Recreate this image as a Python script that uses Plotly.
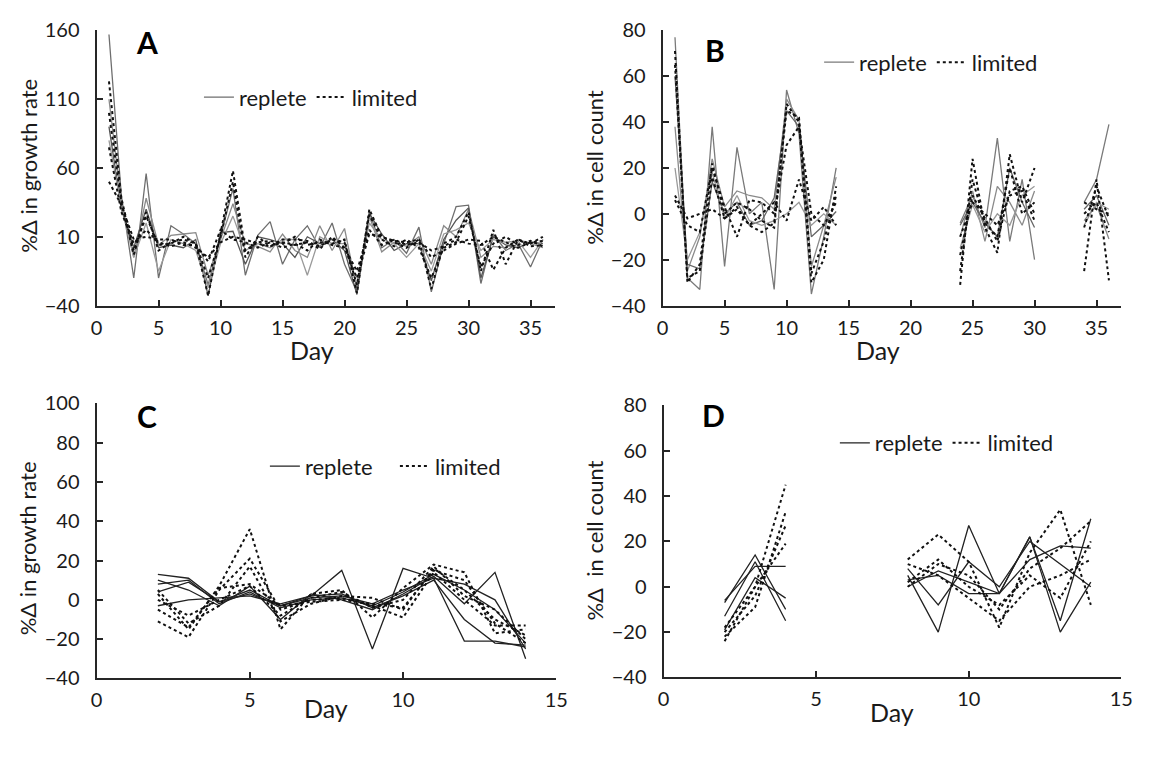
import plotly.graph_objects as go

# ---------------- DATA ----------------
days_A = list(range(1, 37))
A_replete = [
    [157, 40, -20, 56, -20, 18, 12, 5, -25, 10, 45, -18, 11, 21, -10, 8, 18, 2, 20, -10, -30, 28, 2, 8, -2, 17, -30, 5, 32, 33, -24, 12, 0, 5, -12, 8],
    [110, 35, -5, 38, 4, 11, 12, 13, -18, 8, 34, 5, 3, -1, 12, 0, -5, 18, 0, 16, -28, 25, -1, 6, 3, 10, -10, 18, 10, 30, -5, 3, 2, 8, 5, 2],
    [90, 30, 2, 30, 2, 4, 2, 8, -33, 13, 14, -10, 10, 8, 5, -5, 10, 5, 8, 0, -32, 27, 12, 0, 5, 5, -22, 8, 22, 31, -20, 10, 4, 2, 6, 5],
    [80, 32, -5, 20, -15, 8, 5, 0, -27, 5, 25, 0, 5, 2, 8, 8, -18, 10, 5, 5, -25, 20, 8, 5, -5, 5, -15, 12, 15, 20, 0, 8, 6, 7, -5, 8],
]
A_limited = [
    [123, 38, 0, 25, 4, 5, 10, 5, -33, 13, 58, 0, 6, 7, 5, 10, 4, 6, 5, 8, -31, 30, 10, 6, 2, 8, -28, 5, 10, 28, -15, 15, -10, 8, 5, 10],
    [100, 35, -3, 28, 0, 6, 8, 5, -20, 10, 50, -5, 10, 3, 6, 4, 6, 3, 8, 6, -25, 26, 8, 3, 8, 2, -20, 2, 6, 25, -12, 5, 10, 4, 7, 3],
    [75, 28, 5, 15, 6, 3, 6, 2, -5, 6, 10, 8, 5, 3, 8, 8, 7, 1, 10, 2, -20, 12, 10, 7, 6, 8, -5, 0, 5, 8, 7, -14, 2, 8, 3, 4],
    [50, 33, 8, 10, 8, 8, 4, 4, -8, 15, 8, 6, 2, 6, 2, 5, 0, 8, 4, 2, -15, 15, 4, 8, 4, 6, 0, 3, 8, 5, 4, 10, 6, 2, 6, 7],
]

days_B = list(range(1, 37))
_ = None
B_replete = [
    [77, -28, -33, 38, -23, 29, 0, 5, -33, 54, 35, -35, -10, 20, _, _, _, _, _, _, _, _, _, -4, 8, -6, 33, -12, 15, -20, _, _, _, 5, 15, 39],
    [38, -25, -10, 24, 3, 10, 8, 7, 2, 50, 41, -23, -5, 16, _, _, _, _, _, _, _, _, _, -10, 10, -12, 12, 5, -5, 10, _, _, _, -3, 4, -11],
    [60, -22, -24, 14, 0, 5, -5, -3, 7, 45, 38, -10, -5, 1, _, _, _, _, _, _, _, _, _, -5, 5, -4, -10, 20, 5, -6, _, _, _, 2, 8, -5],
    [20, -20, -8, 18, -2, 8, -3, -5, -3, 0, 5, -5, 0, -5, _, _, _, _, _, _, _, _, _, -15, 4, -8, 0, -5, 8, 12, _, _, _, -5, 5, 2],
]
B_limited = [
    [71, -30, -22, 22, 0, 5, 2, -3, -6, 48, 40, -30, -20, 12, _, _, _, _, _, _, _, _, _, -31, 24, -6, -17, 26, 5, 20, _, _, _, -25, 15, -29],
    [65, -28, -25, 16, -2, 2, -5, -8, -4, 45, 42, -26, -12, 8, _, _, _, _, _, _, _, _, _, -25, 15, -4, -10, 20, 0, 5, _, _, _, -6, 12, -2],
    [6, -5, -8, 20, 3, -10, 6, 5, 0, 30, 38, 0, -5, 5, _, _, _, _, _, _, _, _, _, -18, 8, -2, -12, 10, 12, 0, _, _, _, 0, 5, -8],
    [8, -2, 0, 2, -2, 3, -5, 0, 5, -3, 15, -3, 3, -5, _, _, _, _, _, _, _, _, _, -10, 5, 0, -5, 8, 10, -3, _, _, _, 5, 2, 0],
]

days_C = list(range(2, 15))
C_replete = [
    [13, 11, -1, 3, -3, 2, 15, -25, 16, 11, -21, -21, -24],
    [10, 5, -3, 7, -10, 3, 0, -5, 3, 12, -2, 14, -30],
    [4, 9, -1, 5, -3, 1, 2, -2, 5, 11, 8, 0, -25],
    [-3, 0, 1, 2, -2, 2, 3, -4, 2, 10, -10, -22, -23],
    [8, 10, -2, 4, -4, 0, 1, -3, 4, 13, 5, -5, -22],
]
C_limited = [
    [3, -15, 7, 36, -15, 3, 5, -9, 6, 18, 14, -17, -15],
    [-11, -19, 5, 21, -5, 0, 1, -3, -9, 14, 0, -13, -13],
    [5, -12, -3, 17, -11, -2, 2, 1, -5, 16, 5, -10, -18],
    [0, -8, 0, 7, -8, 1, 4, -4, 0, 17, 2, -5, -20],
    [-5, -14, 6, 8, -3, -1, 0, -2, -4, 15, 10, -12, -22],
]

days_D = list(range(2, 15))
D_replete = [
    [-7, 14, -10, _, _, _, 5, -20, 27, -3, 22, -20, 2],
    [-13, 11, -15, _, _, _, 3, 5, -3, -3, 22, -15, 30],
    [-19, 4, -5, _, _, _, 0, 7, 2, -3, 12, 18, 17],
    [-6, 9, 9, _, _, _, 8, -8, 11, 0, 20, 10, 0],
]
D_limited = [
    [-24, 0, 45, _, _, _, 12, 23, 11, -18, 15, 34, -8],
    [-22, -9, 33, _, _, _, 0, 10, 5, -10, 8, 17, 29],
    [-20, -4, 27, _, _, _, 10, 5, -5, -15, 0, 5, 12],
    [-18, 0, 19, _, _, _, 2, 12, 0, -8, 5, -5, 20],
]

panel_letters = ["A", "B", "C", "D"]
y_titles = ["%Δ in growth rate", "%Δ in cell count", "%Δ in growth rate", "%Δ  in cell count"]
x_title = "Day"
legend_names = ["replete", "limited"]

# ---------------- STYLE ----------------
W, H = 1154, 765
FONT = "Lato, 'Open Sans', sans-serif"
TXT = "#1a1a1a"

def px_x(p):
    return p / W

def px_y(p):
    return 1 - p / H

panels = [
    dict(name="A", days=days_A, rep=A_replete, lim=A_limited, xd=(92, 558), yd=(18, 302),
         xr=[0, 37], xt=list(range(0, 36, 5)), yr=[-40, 160], dt=50,
         rep_colors=["#6e6e6e", "#8a8a8a", "#555555", "#9a9a9a"], leg=(196, 87), ew=None,
         letter=(143, 30), ytitle=(22, 158), day=(311, 348)),
    dict(name="B", days=days_B, rep=B_replete, lim=B_limited, xd=(667, 1133), yd=(18, 302),
         xr=[0, 37], xt=list(range(0, 36, 5)), yr=[-40, 80], dt=20,
         rep_colors=["#7a7a7a", "#8a8a8a", "#666666", "#999999"], leg=(826, 51), ew=None,
         letter=(720, 38), ytitle=(598, 160), day=(886, 348)),
    dict(name="C", days=days_C, rep=C_replete, lim=C_limited, xd=(92, 559), yd=(403, 687),
         xr=[0, 15], xt=[0, 5, 10, 15], yr=[-40, 100], dt=20,
         rep_colors=["#222222"] * 5, leg=(263, 468), ew=85,
         letter=(143, 416), ytitle=(22, 553), day=(325, 718)),
    dict(name="D", days=days_D, rep=D_replete, lim=D_limited, xd=(668, 1133), yd=(405, 686),
         xr=[0, 15], xt=[0, 5, 10, 15], yr=[-40, 80], dt=20,
         rep_colors=["#222222"] * 4, leg=(842, 444), ew=None,
         letter=(719, 415), ytitle=(598, 545), day=(900, 722)),
]

fig = go.Figure()
layout = dict(
    width=W, height=H, margin=dict(l=0, r=0, t=0, b=0),
    paper_bgcolor="white", plot_bgcolor="white",
    font=dict(family=FONT, size=20, color=TXT),
    showlegend=True, annotations=[],
)

for i, p in enumerate(panels):
    n = "" if i == 0 else str(i + 1)
    xa, ya = "x" + n, "y" + n
    legname = "legend" if i == 0 else "legend" + str(i + 1)
    for k, vals in enumerate(p["rep"]):
        fig.add_trace(go.Scatter(
            x=p["days"], y=vals, mode="lines", xaxis=xa, yaxis=ya,
            line=dict(color=p["rep_colors"][k % len(p["rep_colors"])], width=1.3),
            name=legend_names[0], legend=legname, showlegend=(k == 0),
            connectgaps=False, hoverinfo="skip"))
    for k, vals in enumerate(p["lim"]):
        fig.add_trace(go.Scatter(
            x=p["days"], y=vals, mode="lines", xaxis=xa, yaxis=ya,
            line=dict(color="#111111", width=2, dash="dot"),
            name=legend_names[1], legend=legname, showlegend=(k == 0),
            connectgaps=False, hoverinfo="skip"))

    axis_common = dict(showline=True, linewidth=2, linecolor="#262626", ticks="inside",
                       ticklen=6, tickwidth=1.5, tickcolor="#262626", showgrid=False,
                       zeroline=False, tickfont=dict(family=FONT, size=20, color=TXT))
    layout["xaxis" + n] = dict(axis_common, domain=[px_x(p["xd"][0]), px_x(p["xd"][1])],
                               range=p["xr"], tickvals=p["xt"], anchor=ya,
                               ticklabelstandoff=3)
    layout["yaxis" + n] = dict(axis_common, domain=[px_y(p["yd"][1]), px_y(p["yd"][0])],
                               range=p["yr"], dtick=p["dt"], tick0=p["yr"][0], anchor=xa,
                               ticklabelstandoff=11)
    leg = dict(x=px_x(p["leg"][0]), y=px_y(p["leg"][1]), xanchor="left",
               yanchor="middle", orientation="h", bgcolor="rgba(0,0,0,0)",
               font=dict(family=FONT, size=22, color=TXT),
               itemwidth=30, tracegroupgap=0)
    if p["ew"]:
        leg["entrywidth"] = p["ew"]
        leg["entrywidthmode"] = "pixels"
    layout[legname] = leg

    layout["annotations"].append(dict(text="<b>%s</b>" % panel_letters[i],
                                      x=px_x(p["letter"][0]), y=px_y(p["letter"][1]),
                                      xref="paper", yref="paper", showarrow=False,
                                      xanchor="center", yanchor="middle",
                                      font=dict(family=FONT, size=30, color="black")))
    layout["annotations"].append(dict(text=y_titles[i], x=px_x(p["ytitle"][0]),
                                      y=px_y(p["ytitle"][1]), xref="paper",
                                      yref="paper", showarrow=False, textangle=-90,
                                      xanchor="center", yanchor="middle",
                                      font=dict(family=FONT, size=22, color=TXT)))
    layout["annotations"].append(dict(text=x_title, x=px_x(p["day"][0]), y=px_y(p["day"][1]),
                                      xref="paper", yref="paper", showarrow=False,
                                      xanchor="center", yanchor="middle",
                                      font=dict(family=FONT, size=25, color=TXT)))

fig.update_layout(**layout)
fig.write_html("out.html")
